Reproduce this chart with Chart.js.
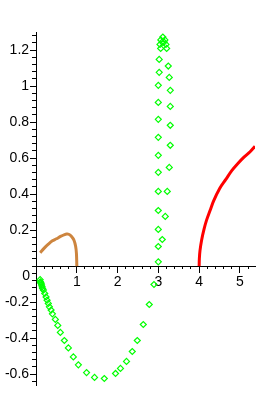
<!DOCTYPE html>
<html>
<head>
<meta charset="utf-8">
<script src="https://cdn.jsdelivr.net/npm/chart.js@4"></script>
<style>
body { margin: 0; background: #fff; }
#wrap { width: 261px; height: 417px; }
</style>
</head>
<body>
<div id="wrap"><canvas id="plot"></canvas></div>
<script>
// brown curve
var brownX = [0.1, 0.2, 0.3, 0.4, 0.5, 0.6, 0.7, 0.75, 0.8, 0.87, 0.93, 0.97, 0.99, 1.0];
var brownY = [0.074, 0.1, 0.122, 0.141, 0.152, 0.165, 0.175, 0.178, 0.177, 0.165, 0.144, 0.11, 0.07, 0];

// red curve
var redX = [4.0, 4.005, 4.02, 4.06, 4.12, 4.18, 4.27, 4.35, 4.5, 4.65, 4.8, 4.95, 5.1, 5.25, 5.37];
var redY = [0, 0.042, 0.085, 0.144, 0.205, 0.254, 0.31, 0.36, 0.43, 0.48, 0.53, 0.57, 0.605, 0.635, 0.665];

// green diamonds
var greenX = [0.1, 0.105, 0.115, 0.123, 0.135, 0.147, 0.16, 0.179, 0.213, 0.245, 0.27, 0.3, 0.326, 0.368, 0.4,
  0.473, 0.532, 0.596, 0.694, 0.792, 0.914, 1.037, 1.238, 1.434, 1.674, 1.949, 2.07, 2.218, 2.36, 2.483,
  2.63, 2.777, 2.892, 2.998,
  2.998, 2.998, 2.998, 2.998, 2.998, 2.998, 2.998, 2.998, 2.998, 2.998, 3.02, 3.02, 3.056, 3.04,
  3.06, 3.11, 3.16, 3.09, 3.14,
  3.186, 3.203, 3.243, 3.267, 3.292, 3.292, 3.292, 3.292, 3.267, 3.218, 3.169, 3.096];
var greenY = [-0.075, -0.087, -0.092, -0.096, -0.105, -0.115, -0.124, -0.133, -0.152, -0.171, -0.189, -0.207, -0.226, -0.244, -0.265,
  -0.296, -0.329, -0.368, -0.413, -0.454, -0.504, -0.548, -0.591, -0.618, -0.624, -0.596, -0.568, -0.529, -0.474, -0.413,
  -0.324, -0.213, -0.102, 0.024,
  0.109, 0.204, 0.309, 0.415, 0.521, 0.615, 0.715, 0.815, 0.909, 1.004, 1.076, 1.148, 1.209, 1.231,
  1.256, 1.272, 1.256, 1.244, 1.244,
  1.231, 1.209, 1.111, 1.048, 0.976, 0.887, 0.782, 0.671, 0.548, 0.415, 0.276, 0.148];

var xMajor = [1, 2, 3, 4, 5];
var yMajor = [-0.6, -0.4, -0.2, 0.2, 0.4, 0.6, 0.8, 1, 1.2];
var xMinor = [];
var yMinor = [];
for (var i = 0; i <= 26; i++) xMinor.push(+(i * 0.2).toFixed(1));
for (var j = -16; j <= 32; j++) if (j !== 0) yMinor.push(+(j * 0.04).toFixed(2));

var xMin = -0.1, xMax = 5.37, yMin = -0.66, yMax = 1.3;
var font = {family: 'Liberation Sans', size: 14};

function pts(xs, ys) {
  return xs.map(function (x, i) { return {x: x, y: ys[i]}; });
}
function setTicks(list) {
  return function (scale) { scale.ticks = list.map(function (v) { return {value: v}; }); };
}

// Maple puts the 0 of the y axis a little below the x axis
var zeroLabel = {
  id: 'zeroLabel',
  afterDraw: function (chart) {
    var c = chart.ctx;
    c.save();
    c.font = '14px "Liberation Sans"';
    c.fillStyle = '#000';
    c.textAlign = 'right';
    c.textBaseline = 'middle';
    c.fillText('0', chart.scales.x.getPixelForValue(0) - 6, chart.scales.y.getPixelForValue(0) + 10);
    c.restore();
  }
};

var ctx = document.getElementById('plot');
var myChart = new Chart(ctx, {
  type: 'scatter',
  data: {
    datasets: [{
      data: pts(brownX, brownY),
      showLine: true,
      borderColor: '#CD853F',
      borderWidth: 3,
      pointRadius: 0,
      tension: 0.3
    }, {
      data: pts(redX, redY),
      showLine: true,
      borderColor: '#FF0000',
      borderWidth: 3,
      pointRadius: 0,
      tension: 0.3
    }, {
      data: pts(greenX, greenY),
      showLine: false,
      pointStyle: 'rectRot',
      pointRadius: 3,
      borderWidth: 1.2,
      borderColor: '#00FF00',
      backgroundColor: 'rgba(0,0,0,0)'
    }]
  },
  options: {
    responsive: true,
    maintainAspectRatio: false,
    animation: false,
    layout: {padding: {left: 32, right: 6, top: 32, bottom: 32}},
    plugins: {legend: {display: false}, tooltip: {enabled: false}},
    scales: {
      x: {
        type: 'linear', min: xMin, max: xMax, position: {y: 0},
        afterBuildTicks: setTicks(xMajor),
        grid: {drawOnChartArea: false, tickLength: 6, color: '#000'},
        border: {color: '#000'},
        ticks: {color: '#000', font: font, padding: 2, maxRotation: 0, autoSkip: false}
      },
      x2: {
        type: 'linear', min: xMin, max: xMax, position: {y: 0},
        afterBuildTicks: setTicks(xMinor),
        grid: {drawOnChartArea: false, tickLength: 3, color: '#000'},
        border: {display: false},
        ticks: {display: false}
      },
      y: {
        type: 'linear', min: yMin, max: yMax, position: {x: 0},
        afterBuildTicks: setTicks(yMajor),
        grid: {drawOnChartArea: false, tickLength: 6, color: '#000'},
        border: {color: '#000'},
        ticks: {
          color: '#000', font: font, autoSkip: false,
          // labels sit right on the axis line, push them left
          callback: function (v) { return v + '\u2002'; }
        }
      },
      y2: {
        type: 'linear', min: yMin, max: yMax, position: {x: 0},
        afterBuildTicks: setTicks(yMinor),
        grid: {drawOnChartArea: false, tickLength: 4, color: '#000'},
        border: {display: false},
        ticks: {display: false}
      }
    }
  },
  plugins: [zeroLabel]
});
</script>
</body>
</html>
